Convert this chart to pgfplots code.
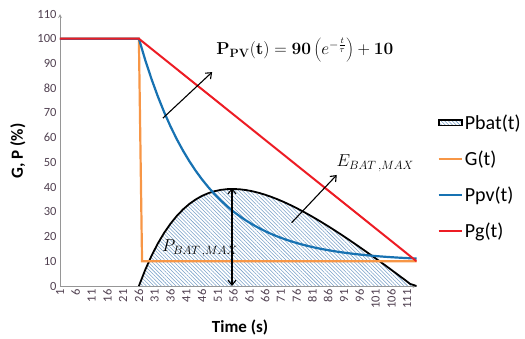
\documentclass[border=0pt]{standalone}
\usepackage[no-math]{fontspec}
\setmainfont{Carlito}
\usepackage{pgfplots}
\pgfplotsset{compat=1.18}
\usetikzlibrary{patterns.meta, arrows.meta}
\definecolor{cOrange}{RGB}{247,150,70}
\definecolor{cBlue}{RGB}{23,114,178}
\definecolor{cRed}{RGB}{237,28,36}
\definecolor{cHatch}{RGB}{120,160,200}
\definecolor{cAxis}{RGB}{150,150,150}
\definecolor{cTick}{RGB}{80,64,80}
\tikzset{
  myhatch/.style={pattern={Lines[angle=-45,distance=2.6pt,line width=0.55pt]}, pattern color=cHatch},
}
\newsavebox\boxformula
\newsavebox\boxebat
\newsavebox\boxpbat
\pgfplotstableread{
t v
1 100
26 100
28 91.435
30 83.686
32 76.674
34 70.329
36 64.588
38 59.393
40 54.693
42 50.440
44 46.591
46 43.109
48 39.958
50 37.107
52 34.528
54 32.194
56 30.082
58 28.171
60 26.442
62 24.877
64 23.461
66 22.180
68 21.021
70 19.972
72 19.023
74 18.165
76 17.388
78 16.685
80 16.049
82 15.473
84 14.952
86 14.481
88 14.054
90 13.669
92 13.319
94 13.004
96 12.718
98 12.459
100 12.225
102 12.013
104 11.822
106 11.648
108 11.492
110 11.350
112 11.221
114 11.105
}\tblppv
\pgfplotstableread{
t v
26 0
28 6.52
30 12.22
32 17.19
34 21.49
36 25.18
38 28.33
40 30.99
42 33.20
44 35.00
46 36.44
48 37.54
50 38.35
52 38.88
54 39.17
56 39.24
58 39.10
60 38.79
62 38.30
64 37.68
66 36.91
68 36.02
70 35.03
72 33.93
74 32.74
76 31.48
78 30.13
80 28.72
82 27.25
84 25.73
86 24.16
88 22.54
90 20.88
92 19.18
94 17.45
96 15.69
98 13.90
100 12.09
102 10.26
104 8.41
106 6.53
108 4.64
110 2.74
112 0.82
114 0
}\tblpbat
\pgfplotstableread{
t v
1 100
26 100
27 10
114 10
}\tblg
\pgfplotstableread{
t v
1 100
26 100
114 10
}\tblpg
\begin{document}
\sbox\boxformula{\fontsize{17.5}{20}\selectfont $\mathbf{P_{PV}(t)} = \mathbf{90}\left(e^{-\frac{t}{\tau}}\right) + \mathbf{10}$}%
\sbox\boxebat{\fontsize{16.5}{18}\selectfont $E_{BAT\,, MAX}$}%
\sbox\boxpbat{\fontsize{16.5}{18}\selectfont $P_{BAT\,, MAX}$}%
\begin{tikzpicture}
\useasboundingbox (-60pt,-52pt) rectangle (465pt,286pt);
\begin{axis}[
  at={(0pt,0pt)}, anchor=south west,
  scale only axis, width=356.6pt, height=272pt,
  xmin=1, xmax=114, ymin=0, ymax=110,
  axis lines=left, axis line style={cAxis, line width=0.8pt},
  major tick length=0pt,
  xtick={1,6,...,111}, ytick={0,10,...,110},
  /pgf/number format/assume math mode=true,
  tick label style={font=\fontsize{12.5}{13}\selectfont, text=cTick},
  xticklabel style={rotate=90, anchor=east},
  xlabel={\textbf{Time (s)}}, ylabel={\textbf{G, P (\%)}},
  label style={font=\fontsize{17}{19}\selectfont},
  xlabel style={at={(axis description cs:0.505,-0.151)}, anchor=center},
  ylabel style={at={(axis description cs:-0.118,0.496)}, anchor=center},
  legend style={at={(1.05,0.645)}, anchor=north west, draw=none, fill=none,
    font=\fontsize{20}{22}\selectfont, row sep=16pt},
  legend cell align=left,
  legend image post style={xscale=1.35},
]
\addlegendimage{area legend, draw=black, line width=1.6pt, myhatch}
\addlegendentry{Pbat(t)}
\addplot[draw=none, myhatch, forget plot] table[x=t,y=v] {\tblpbat} \closedcycle;
\addplot[black, line width=1.8pt, forget plot] table[x=t,y=v] {\tblpbat};
\addplot[cOrange, line width=2.2pt] table[x=t,y=v] {\tblg};
\addlegendentry{G(t)}
\addplot[cBlue, line width=2.2pt] table[x=t,y=v] {\tblppv};
\addlegendentry{Ppv(t)}
\addplot[cRed, line width=2pt] table[x=t,y=v] {\tblpg};
\addlegendentry{Pg(t)}
\coordinate (a1) at (axis cs:33.6,67.9);
\coordinate (a2) at (axis cs:49.2,86.5);
\coordinate (t1) at (axis cs:50.5,95.4);
\coordinate (b1) at (axis cs:74.4,25.6);
\coordinate (b2) at (axis cs:88.7,44.9);
\coordinate (t2) at (axis cs:88.6,49.7);
\coordinate (c1) at (axis cs:55.5,39.6);
\coordinate (c2) at (axis cs:55.5,0);
\coordinate (t3) at (axis cs:33.3,15.2);
\end{axis}
\draw[-{Straight Barb[length=5pt,width=8pt]}, line width=1.1pt] (a1) -- (a2);
\draw[-{Straight Barb[length=5pt,width=8pt]}, line width=1.1pt] (b1) -- (b2);
\draw[{Straight Barb[length=5pt,width=8pt]}-{Straight Barb[length=5pt,width=8pt]}, line width=1.1pt] (c1) -- (c2);
\node[anchor=west, inner sep=0pt] at (t1) {\usebox\boxformula};
\node[anchor=west, inner sep=0pt] at (t2) {\usebox\boxebat};
\node[anchor=west, inner sep=0pt] at (t3) {\usebox\boxpbat};
\end{tikzpicture}
\end{document}
